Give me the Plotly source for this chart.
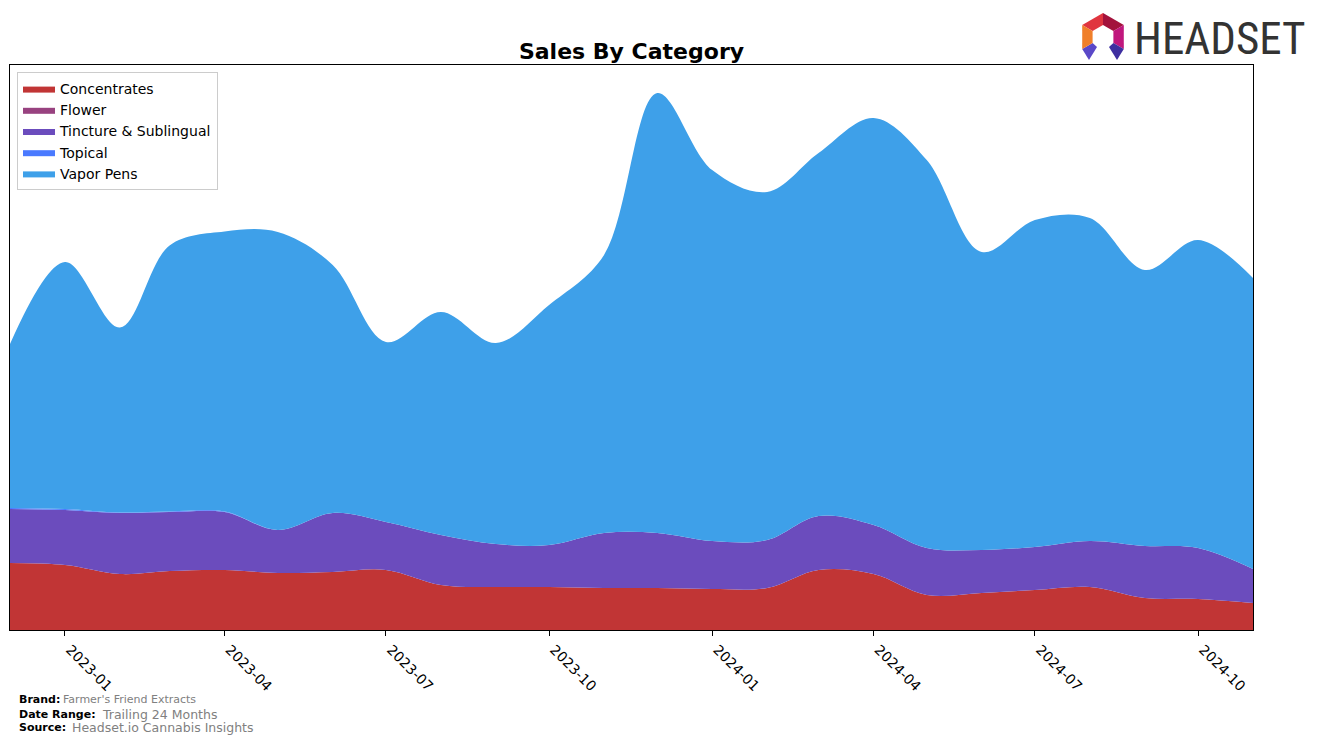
import plotly.graph_objects as go
import math

months = ["2022-12", "2023-01", "2023-02", "2023-03", "2023-04", "2023-05", "2023-06",
          "2023-07", "2023-08", "2023-09", "2023-10", "2023-11", "2023-12", "2024-01",
          "2024-02", "2024-03", "2024-04", "2024-05", "2024-06", "2024-07", "2024-08",
          "2024-09", "2024-10", "2024-11"]
concentrates = [67, 65, 56, 59, 60, 57, 58, 60, 45, 43, 43, 42, 42, 41, 42, 60, 56, 35, 37, 40, 43, 32, 31, 27]
flower = [0] * 24
tincture = [54, 55, 61, 59, 58, 43, 59, 48, 50, 43, 42, 55, 55, 48, 48, 54, 49, 47, 43, 43, 46, 52, 51, 34]
topical = [1, 1, 0.5, 0.5, 0.5, 0, 0, 0, 0, 0, 0, 0, 0, 0, 0, 0, 0, 0, 0, 0, 0, 0, 0, 0]
vapor = [164, 247, 185, 266, 280, 298, 248, 180, 223, 201, 240, 278, 440, 371, 348, 363, 407, 388, 298, 327, 323, 276, 308, 291]

series = [
    ("Concentrates", concentrates, "#C13535"),
    ("Flower", flower, "#984280"),
    ("Tincture & Sublingual", tincture, "#6B4CBD"),
    ("Topical", topical, "#4A7AFF"),
    ("Vapor Pens", vapor, "#3EA0E9"),
]

dates = [m + "-01" for m in months]

fig = go.Figure()
for name, vals, col in series:
    fig.add_trace(go.Scatter(
        x=dates, y=vals, name=name, stackgroup="one",
        mode="lines", line=dict(width=0, color=col, shape="spline", smoothing=1.0),
        fillcolor=col, hoverinfo="skip",
    ))

W, H = 1317, 743
L, R, T, B = 10, 1253, 65, 630


def px(x):
    return (x - L) / (R - L)


def py(y):
    return (B - y) / (B - T)


fig.update_layout(
    width=W, height=H,
    margin=dict(l=L, r=W - R, t=T, b=H - B, autoexpand=False),
    paper_bgcolor="white", plot_bgcolor="white",
    font=dict(family="DejaVu Sans", size=14, color="black"),
    title=dict(text="<b>Sales By Category</b>", x=px(631.5), xref="paper",
               y=1 - 51 / H, yanchor="middle", xanchor="center",
               font=dict(size=22, family="DejaVu Sans")),
    showlegend=True,
    legend=dict(x=px(17), y=py(72), xanchor="left", yanchor="top",
                bgcolor="white", bordercolor="#CCCCCC", borderwidth=1,
                font=dict(size=14, family="DejaVu Sans"), tracegroupgap=0,
                traceorder="normal", itemwidth=32),
    xaxis=dict(type="date", range=[dates[0], dates[-1]],
               tickvals=["2023-01-01", "2023-04-01", "2023-07-01", "2023-10-01",
                         "2024-01-01", "2024-04-01", "2024-07-01", "2024-10-01"],
               ticktext=["2023-01", "2023-04", "2023-07", "2023-10",
                         "2024-01", "2024-04", "2024-07", "2024-10"],
               tickangle=45, ticks="outside", ticklen=5, tickcolor="black",
               ticklabelshift=5,
               showline=True, linecolor="black", linewidth=1, mirror=True,
               showgrid=False, zeroline=False, tickfont=dict(size=14)),
    yaxis=dict(range=[0, B - T], showticklabels=False, ticks="",
               showline=True, linecolor="black", linewidth=1, mirror=True,
               showgrid=False, zeroline=False),
)

# footer
foot = [
    ("Brand:", 17, 699, 11, "Farmer's Friend Extracts", 61, 11),
    ("Date Range:", 17, 714, 11, "Trailing 24 Months", 100, 12.5),
    ("Source:", 17, 727, 11, "Headset.io Cannabis Insights", 70, 12.5),
]
for lab, lx, ly, ls, val, vx, vs in foot:
    fig.add_annotation(text="<b>" + lab + "</b>", x=px(lx), y=py(ly), xref="paper", yref="paper",
                       xanchor="left", yanchor="middle", showarrow=False,
                       font=dict(size=ls, color="black", family="DejaVu Sans"))
    fig.add_annotation(text=val, x=px(vx), y=py(ly), xref="paper", yref="paper",
                       xanchor="left", yanchor="middle", showarrow=False,
                       font=dict(size=vs, color="#808080", family="DejaVu Sans"))

# logo text
fig.add_annotation(text="HEADSET", x=px(1132), y=py(38), xref="paper", yref="paper",
                   xanchor="left", yanchor="middle", showarrow=False,
                   font=dict(size=45, color="#333333",
                             family="Liberation Sans Narrow, Roboto Condensed, Liberation Sans"))

# logo icon (hexagonal ring)
cx, cy, ro, ri = 1103, 37, 24, 12


def pt(r, ang):
    a = math.radians(ang)
    return (cx + r * math.cos(a), cy - r * math.sin(a))


segs = [(150, 90, "#E0353F"), (90, 30, "#A3123C"), (30, -30, "#C0177D"),
        (-30, -90, "#3E2FA0"), (-90, -150, "#5A48C8"), (210, 150, "#F07F2A")]
for a0, a1, col in segs:
    p = [pt(ro, a0), pt(ro, a1), pt(ri, a1), pt(ri, a0)]
    if a0 == -30:
        p = [pt(ro, -30), (cx + 14, 60), (cx + 6, cy + 10), pt(ri, -30)]
    if a0 == -90:
        p = [(cx - 14, 60), pt(ro, -150), pt(ri, -150), (cx - 6, cy + 10)]
    path = "M " + " L ".join(f"{px(x):.5f},{py(y):.5f}" for x, y in p) + " Z"
    fig.add_shape(type="path", path=path, xref="paper", yref="paper",
                  fillcolor=col, line=dict(width=0))

fig.write_html("out.html", config={"displayModeBar": False},
               post_script="document.body.style.margin='0';")
